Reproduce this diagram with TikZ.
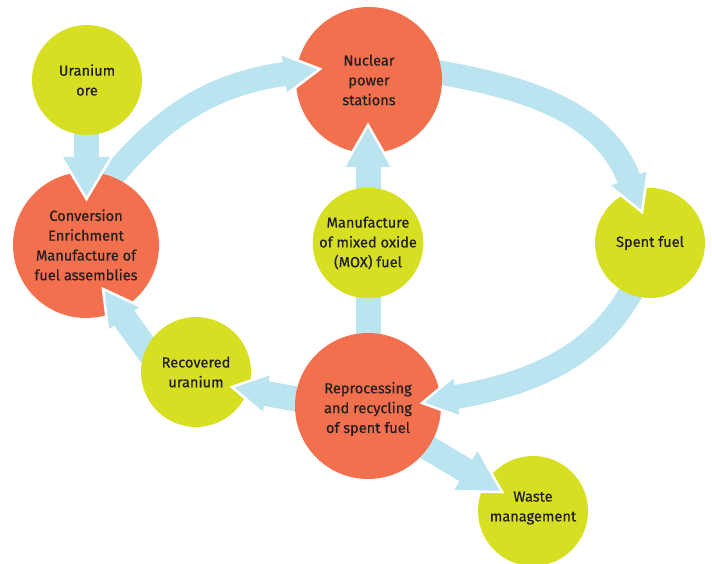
\documentclass[tikz,border=0pt]{standalone}
\usepackage{fontspec}
\setmainfont{Fira Sans}[FakeBold=0.5]
\usetikzlibrary{calc}
\pgfdeclarelayer{back}
\pgfdeclarelayer{front}
\pgfsetlayers{back,main,front}
\definecolor{orng}{RGB}{242,112,78}
\definecolor{lime}{RGB}{215,223,35}
\definecolor{skyb}{RGB}{187,228,241}
\definecolor{ink}{RGB}{35,31,32}
\tikzset{
  txt/.style={align=center, text=ink, inner sep=0pt, font=\fontsize{14.6}{19.8}\selectfont},
  big/.style={circle, fill=orng, minimum size=146pt, txt},
  small/.style={circle, fill=lime, minimum size=110pt, txt},
  shaft/.style={draw=skyb, line width=25pt, line join=round},
  cshaft/.style={draw=skyb, line width=24pt, line join=round},
  headstyle/.style={fill=skyb, draw=white, line width=2.5pt, line join=miter, miter limit=20},
}
\newcommand\headtip[4]{\path[headstyle, shift={(#1)}, rotate=#2] (-#3,0.5*#4) -- (0,0) -- (-#3,-0.5*#4);}
\begin{document}
\begin{tikzpicture}[x=1pt,y=1pt]
\useasboundingbox (0,0) rectangle (712,564);
% circles
\node[small] (ore) at (87,484) {Uranium\\ore};
\node[big] (conv) at (86,319) {Conversion\\Enrichment\\Manufacture of\\fuel assemblies};
\node[big] (nuc) at (369,484) {Nuclear\\power\\stations};
\node[big] (repro) at (368,158) {};
\node[txt] (reprotext) at ($(repro)+(0,-3)$) {Reprocessing\\and recycling\\of spent fuel};
\node[small] (mox) at (368,321) {Manufacture\\of mixed oxide\\(MOX) fuel};
\node[small] (spent) at (650,321) {Spent fuel};
\node[small] (recov) at (196,192) {Recovered\\uranium};
\node[small] (waste) at (533,53) {};
\node[txt] (wastetext) at ($(waste)+(0,3)$) {Waste\\management};
% arrow tips
\coordinate (Atip) at (86.5,365);
\coordinate (Btip) at (320,495);
\coordinate (Ctip) at (642,352);
\coordinate (Dtip) at (422,161);
\coordinate (Etip) at (232,177);
\coordinate (Ftip) at (103,275);
\coordinate (Gtip) at (368,439);
\coordinate (Itip) at (502,72);
% shafts
\begin{pgfonlayer}{back}
\draw[shaft] (Atip |- ore.center) -- ($(Atip)+(90:40)$);
\draw[cshaft] (conv.center) -- (102.4,375.5) -- (112,387)
  .. controls (157,440.6) and (205,479) .. ($(Btip)+(188:36)$) -- ($(Btip)+(188:34)$);
\draw[cshaft] (nuc.center) -- (422.3,494.5) -- (442,491)
  .. controls (530.6,475.4) and (603.1,450.6) .. ($(Ctip)+(111.5:36)$) -- ($(Ctip)+(111.5:34)$);
\draw[cshaft] (spent.center) -- (640,287.3) -- (630,270)
  .. controls (595,209.4) and (535.3,181) .. ($(Dtip)+(10:35)$) -- ($(Dtip)+(10:33)$);
\draw[shaft] (repro.center) -- (325.4,159.4) -- ($(Etip)+(-10.7:33)$);
\draw[shaft] (recov.center) -- (159.5,197.4) -- ($(Ftip)+(-54:34)$);
\draw[shaft] (repro.center) -- ($(Gtip)+(-90:40)$);
\draw[shaft] (repro.center) -- (371.4,149.8) -- ($(Itip)+(149.2:40)$);
\end{pgfonlayer}
% heads
\begin{pgfonlayer}{front}
\headtip{Atip}{-90}{42}{50}
\headtip{Btip}{8}{36}{40}
\headtip{Ctip}{-68.5}{36}{41}
\headtip{Dtip}{-170}{35}{40}
\headtip{Etip}{169.3}{35}{40}
\headtip{Ftip}{126}{36}{40}
\headtip{Gtip}{90}{42}{48}
\headtip{Itip}{-30.8}{42}{48}
\end{pgfonlayer}
\end{tikzpicture}
\end{document}
